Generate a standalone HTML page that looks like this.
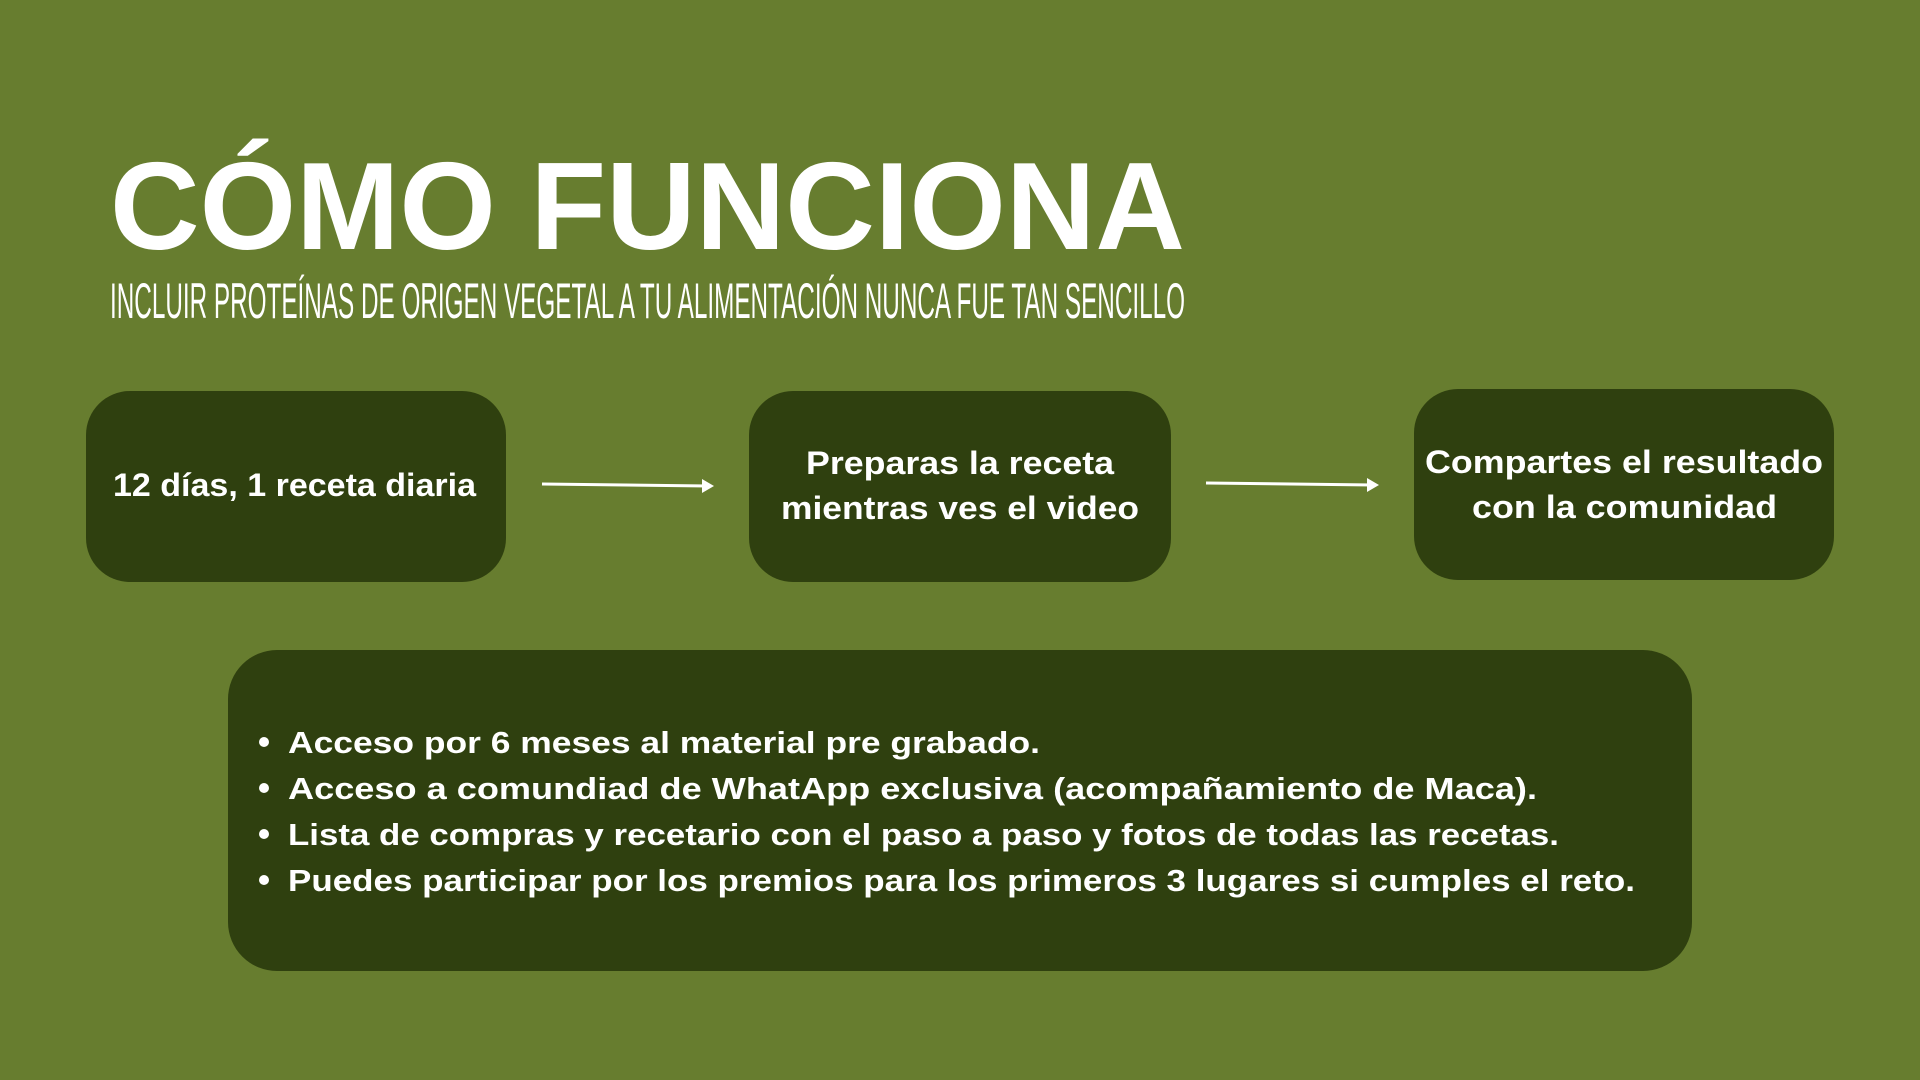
<!DOCTYPE html>
<html><head><meta charset="utf-8"><style>
html,body{margin:0;padding:0;width:1920px;height:1080px;overflow:hidden;background:#677d2f;}
svg{display:block}
text{font-family:"Liberation Sans",sans-serif;fill:#fff;}
.b{font-weight:bold;}
</style></head><body>
<svg width="1920" height="1080" viewBox="0 0 1920 1080">
<rect width="1920" height="1080" fill="#677d2f"/>
<text class="b" x="110" y="249" font-size="124" textLength="1075" lengthAdjust="spacingAndGlyphs">CÓMO FUNCIONA</text>
<text x="110" y="318" font-size="50" textLength="1075" lengthAdjust="spacingAndGlyphs" style="font-family:'Liberation Sans Narrow','Liberation Sans',sans-serif">INCLUIR PROTEÍNAS DE ORIGEN VEGETAL A TU ALIMENTACIÓN NUNCA FUE TAN SENCILLO</text>
<g fill="#2f400f">
<rect x="86" y="391" width="420" height="191" rx="44"/>
<rect x="749" y="391" width="422" height="191" rx="44"/>
<rect x="1414" y="389" width="420" height="191" rx="44"/>
<rect x="228" y="650" width="1464" height="321" rx="49"/>
</g>
<g stroke="#fff" stroke-width="3" fill="none"><line x1="542" y1="484" x2="708" y2="486"/><line x1="1206" y1="483" x2="1373" y2="485"/></g>
<g fill="#fff"><polygon points="714,486 702,479 702,493"/><polygon points="1379,485 1367,478 1367,492"/></g>
<g class="b" font-size="32">
<text class="b" x="113" y="496" textLength="363" lengthAdjust="spacingAndGlyphs">12 días, 1 receta diaria</text>
<text class="b" x="806" y="474" textLength="308" lengthAdjust="spacingAndGlyphs">Preparas la receta</text>
<text class="b" x="781" y="519" textLength="358" lengthAdjust="spacingAndGlyphs">mientras ves el video</text>
<text class="b" x="1425" y="473" textLength="398" lengthAdjust="spacingAndGlyphs">Compartes el resultado</text>
<text class="b" x="1472" y="518" textLength="305" lengthAdjust="spacingAndGlyphs">con la comunidad</text>
</g>
<g fill="#fff"><circle cx="264" cy="742" r="5"/><circle cx="264" cy="788" r="5"/><circle cx="264" cy="834" r="5"/><circle cx="264" cy="880" r="5"/></g>
<text class="b" x="288" y="753" font-size="31" textLength="752" lengthAdjust="spacingAndGlyphs">Acceso por 6 meses al material pre grabado.</text>
<text class="b" x="288" y="799" font-size="31" textLength="1249" lengthAdjust="spacingAndGlyphs">Acceso a comundiad de WhatApp exclusiva (acompañamiento de Maca).</text>
<text class="b" x="288" y="845" font-size="31" textLength="1271" lengthAdjust="spacingAndGlyphs">Lista de compras y recetario con el paso a paso y fotos de todas las recetas.</text>
<text class="b" x="288" y="891" font-size="31" textLength="1347" lengthAdjust="spacingAndGlyphs">Puedes participar por los premios para los primeros 3 lugares si cumples el reto.</text>
</svg>
</body></html>
